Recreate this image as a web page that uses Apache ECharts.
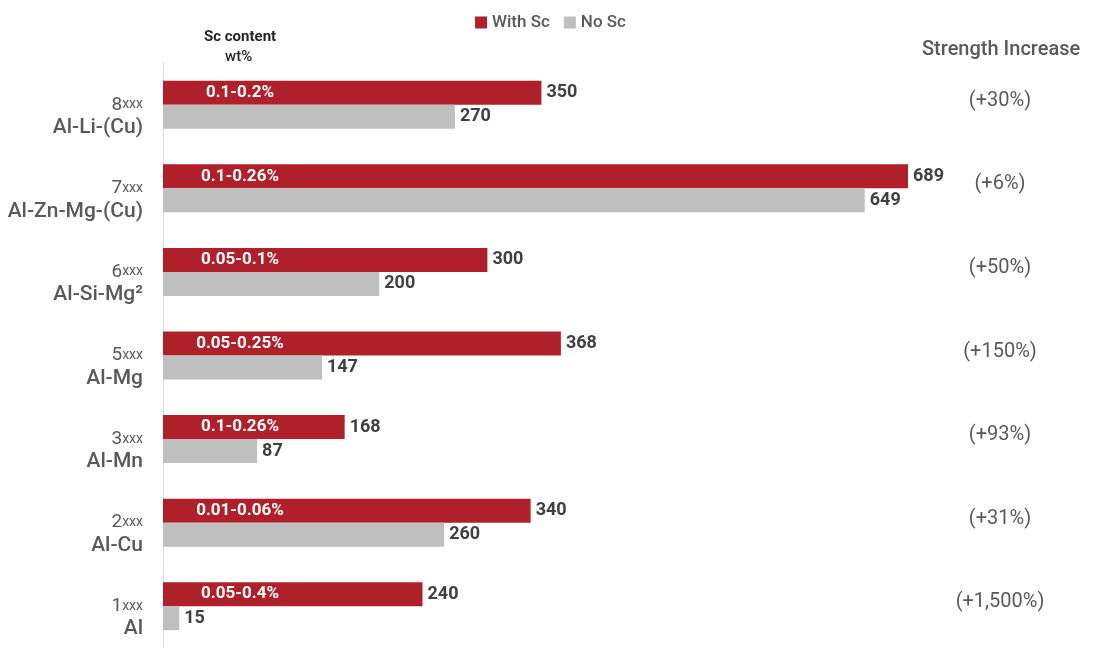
<!DOCTYPE html>
<html>
<head>
<meta charset="utf-8">
<script src="https://cdn.jsdelivr.net/npm/echarts@6/dist/echarts.min.js"></script>
<style>
  html, body { margin: 0; padding: 0; background: #fff; }
  #chart { width: 1101px; height: 648px; }
</style>
</head>
<body>
<div id="chart"></div>
<script>
// alloy series, top to bottom
const seriesNum = ['8', '7', '6', '5', '3', '2', '1']
const alloyNames = ['Al-Li-(Cu)', 'Al-Zn-Mg-(Cu)', 'Al-Si-Mg²', 'Al-Mg', 'Al-Mn', 'Al-Cu', 'Al']
const withSc = [350, 689, 300, 368, 168, 340, 240]
const noSc = [270, 649, 200, 147, 87, 260, 15]
const scContent = ['0.1-0.2%', '0.1-0.26%', '0.05-0.1%', '0.05-0.25%', '0.1-0.26%', '0.01-0.06%', '0.05-0.4%']
const strengthIncrease = ['(+30%)', '(+6%)', '(+50%)', '(+150%)', '(+93%)', '(+31%)', '(+1,500%)']

const categories = seriesNum.map((n, i) => n + '|' + alloyNames[i])
const FONT = 'Roboto, "Liberation Sans", sans-serif'

const myChart = echarts.init(document.getElementById('chart'))
const options = {
  animation: false,
  legend: {
    top: 9,
    left: 'center',
    itemWidth: 12,
    itemHeight: 12,
    itemGap: 14,
    icon: 'rect',
    textStyle: { color: '#595959', fontSize: 17, fontFamily: FONT, fontWeight: 500 },
    data: ['With Sc', 'No Sc']
  },
  graphic: [
    {
      type: 'text', left: 204, top: 30,
      style: { text: 'Sc content', fill: '#262626', font: 'bold 15px ' + FONT }
    },
    {
      type: 'text', left: 225, top: 50,
      style: { text: 'wt%', fill: '#262626', font: '500 15px ' + FONT }
    },
    {
      type: 'text', left: 922, top: 40,
      style: { text: 'Strength Increase', fill: '#595959', font: '500 20px ' + FONT }
    }
  ],
  grid: {
    left: 163,
    top: 63,
    width: 865,
    height: 590
  },
  xAxis: {
    type: 'value',
    min: 0,
    max: 800,
    show: false
  },
  yAxis: {
    type: 'category',
    inverse: true,
    data: categories,
    axisLine: { lineStyle: { color: '#D9D9D9', width: 1 } },
    axisTick: { show: false },
    axisLabel: {
      margin: 20,
      padding: [24, 0, 0, 0],
      formatter: function(v) {
        const p = v.split('|')
        return '{n|' + p[0] + '}{x|xxx}\n{a|' + p[1] + '}'
      },
      rich: {
        n: { fontSize: 19, color: '#595959', fontFamily: FONT, lineHeight: 22 },
        x: { fontSize: 14, color: '#595959', fontFamily: FONT, lineHeight: 22 },
        a: { fontSize: 21, color: '#595959', fontFamily: FONT, fontWeight: 500, lineHeight: 24, align: 'right' }
      }
    }
  },
  series: [
    {
      name: 'With Sc',
      type: 'bar',
      data: withSc,
      barWidth: 24,
      barGap: '0%',
      itemStyle: { color: '#B0202A' },
      label: {
        show: true,
        position: 'right',
        distance: 5,
        color: '#404040',
        fontSize: 18,
        fontWeight: 'bold',
        fontFamily: FONT
      }
    },
    {
      name: 'No Sc',
      type: 'bar',
      data: noSc,
      barWidth: 24,
      barGap: '0%',
      itemStyle: { color: '#BFBFBF' },
      label: {
        show: true,
        position: 'right',
        distance: 5,
        color: '#404040',
        fontSize: 18,
        fontWeight: 'bold',
        fontFamily: FONT
      }
    },
    {
      type: 'custom',
      silent: true,
      z: 10,
      data: scContent.map((t, i) => [0, i]),
      encode: { x: 0, y: 1 },
      renderItem: function(params, api) {
        const i = api.value(1)
        const p = api.coord([0, i])
        return {
          type: 'group',
          children: [
            {
              type: 'text',
              x: p[0] + 77,
              y: p[1] - 12,
              z2: 100,
              style: {
                text: scContent[i], fill: '#fff', font: 'bold 17px ' + FONT,
                align: 'center', verticalAlign: 'middle'
              }
            },
            {
              type: 'text',
              x: 1000,
              y: p[1] - 4,
              style: {
                text: strengthIncrease[i], fill: '#595959', font: '20px ' + FONT,
                align: 'center', verticalAlign: 'middle'
              }
            }
          ]
        }
      }
    }
  ]
}
myChart.setOption(options)
window.addEventListener('resize', function() {
  myChart.resize()
})
</script>
</body>
</html>
